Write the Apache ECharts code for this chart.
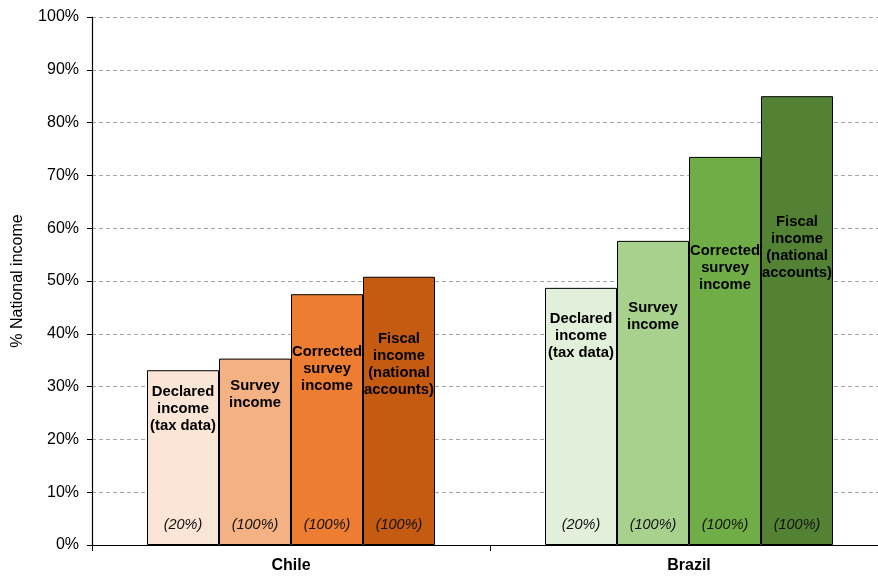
<!DOCTYPE html>
<html>
<head>
<meta charset="utf-8">
<script src="https://cdn.jsdelivr.net/npm/echarts@6/dist/echarts.min.js"></script>
<style>html,body{margin:0;padding:0;background:#fff}#c{width:878px;height:578px}</style>
</head>
<body>
<div id="c"></div>
<script>
// ---- data ----
const countries = ['Chile', 'Brazil'];
const incomeConcepts = [
  'Declared\nincome\n(tax data)',
  'Survey\nincome',
  'Corrected\nsurvey\nincome',
  'Fiscal\nincome\n(national\naccounts)'
];
const chileValues = [33.1, 35.3, 47.5, 50.8];
const brazilValues = [48.7, 57.6, 73.5, 85.0];
const coverage = ['(20%)', '(100%)', '(100%)', '(100%)'];
const yTicks = [0, 10, 20, 30, 40, 50, 60, 70, 80, 90, 100];

// ---- styles ----
const chileColors = ['#FBE5D6', '#F4B183', '#ED7D31', '#C55A11'];
const brazilColors = ['#E2EFDA', '#A9D18E', '#70AD47', '#548235'];
const labelDistance = [[13, 19, 49, 54], [23, 59, 85, 117]];
const FONT = '"Liberation Sans", Arial, sans-serif';

const valuesByCountry = [chileValues, brazilValues];
const colorsByCountry = [chileColors, brazilColors];

const series = [];
incomeConcepts.forEach((name, i) => {
  series.push({
    type: 'bar',
    name: name,
    xAxisIndex: 0,
    barWidth: 72,
    barGap: 0,
    data: countries.map((c, k) => ({
      value: valuesByCountry[k][i],
      itemStyle: { color: colorsByCountry[k][i] },
      label: { distance: labelDistance[k][i] }
    })),
    itemStyle: { borderColor: '#000', borderWidth: 1 },
    label: {
      show: true,
      position: 'insideTop',
      formatter: () => name,
      fontFamily: FONT,
      fontWeight: 'bold',
      fontSize: 14.8,
      lineHeight: 17,
      color: '#000',
      align: 'center'
    },
    emphasis: { disabled: true },
    silent: true
  });
});
incomeConcepts.forEach((name, i) => {
  series.push({
    type: 'bar',
    name: 'cov' + i,
    xAxisIndex: 1,
    barWidth: 72,
    barGap: 0,
    data: countries.map((c, k) => valuesByCountry[k][i]),
    itemStyle: { color: 'rgba(0,0,0,0)', borderWidth: 0 },
    label: {
      show: true,
      position: 'insideBottom',
      distance: 13,
      formatter: () => coverage[i],
      fontFamily: FONT,
      fontStyle: 'italic',
      fontSize: 14.5,
      color: '#111'
    },
    emphasis: { disabled: true },
    silent: true,
    z: 5
  });
});

const chart = echarts.init(document.getElementById('c'), null, { renderer: 'canvas' });
chart.setOption({
  animation: false,
  backgroundColor: '#fff',
  grid: { left: 92, width: 796, top: 17, bottom: 33, containLabel: false, outerBoundsMode: 'none' },
  xAxis: [
    {
      type: 'category',
      data: countries,
      axisLine: { show: true, lineStyle: { color: '#000', width: 1.2 } },
      axisTick: { show: true, length: 6, lineStyle: { color: '#000' } },
      axisLabel: { fontFamily: FONT, fontWeight: 'bold', fontSize: 16, color: '#000', margin: 13 },
      splitLine: { show: false }
    },
    {
      type: 'category',
      data: countries,
      show: false
    }
  ],
  yAxis: {
    type: 'value',
    min: yTicks[0],
    max: yTicks[yTicks.length - 1],
    interval: 10,
    name: '% National income',
    nameLocation: 'middle',
    nameGap: 66,
    nameTextStyle: { fontFamily: FONT, fontSize: 16, color: '#000' },
    axisLine: { show: true, lineStyle: { color: '#000', width: 1.2 } },
    axisTick: { show: true, length: 5, lineStyle: { color: '#000' } },
    axisLabel: { formatter: '{value}%', fontFamily: FONT, fontSize: 16, color: '#000', margin: 13 },
    splitLine: { show: true, lineStyle: { color: '#A6A6A6', type: [4, 3], width: 1 } }
  },
  series: series
});
</script>
</body>
</html>
